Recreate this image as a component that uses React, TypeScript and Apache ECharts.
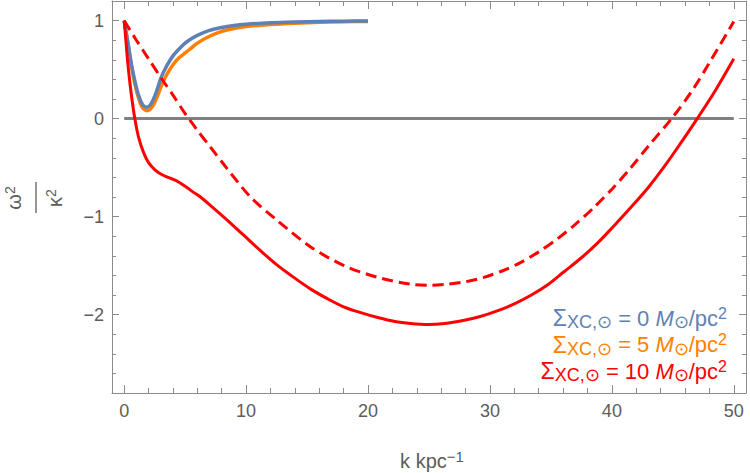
import React, { useEffect, useRef } from "react";
import * as echarts from "echarts";

// ---------- data ----------
const kBlue = [0, 0.3, 0.6, 0.9, 1.2, 1.5, 1.85, 2.2, 2.6, 3.0, 3.5, 4.0, 4.5, 5.0, 5.5, 6.0, 7.0, 8.0, 9.0, 10, 12, 14, 16, 18, 20];
const yBlue = [1, 0.78, 0.55, 0.37, 0.23, 0.145, 0.115, 0.15, 0.26, 0.41, 0.54, 0.64, 0.71, 0.77, 0.815, 0.85, 0.9, 0.93, 0.95, 0.963, 0.978, 0.986, 0.991, 0.994, 0.996];

const kOrange = [0, 0.3, 0.6, 0.9, 1.2, 1.5, 1.9, 2.3, 2.7, 3.1, 3.5, 4.0, 4.5, 5.0, 5.5, 6, 7, 8, 9, 10, 12, 14, 16, 18, 20];
const yOrange = [1, 0.77, 0.53, 0.34, 0.2, 0.11, 0.08, 0.12, 0.22, 0.35, 0.45, 0.55, 0.62, 0.67, 0.72, 0.77, 0.84, 0.89, 0.92, 0.94, 0.96, 0.973, 0.982, 0.988, 0.992];

const kRedSolid = [0, 0.15, 0.3, 0.5, 0.7, 0.9, 1.2, 1.6, 2.0, 2.5, 3.0, 3.6, 4.3, 5.0, 5.6, 6.25, 7.3, 8.4, 9.8, 11.2, 12.5, 13.9, 15.3, 16.7, 18, 19.4, 20.8, 22.2, 23.5, 24.9, 26.3, 27.8, 29.2, 30.65, 32, 33.4, 34.8, 36.1, 37.5, 38.9, 40.2, 41.6, 43, 44.35, 45.7, 47, 48.5, 50];
const yRedSolid = [1, 0.78, 0.56, 0.33, 0.14, -0.02, -0.2, -0.35, -0.45, -0.52, -0.565, -0.6, -0.635, -0.69, -0.745, -0.8, -0.91, -1.03, -1.19, -1.35, -1.49, -1.62, -1.74, -1.84, -1.92, -1.98, -2.03, -2.07, -2.09, -2.1, -2.09, -2.06, -2.02, -1.96, -1.89, -1.8, -1.69, -1.56, -1.42, -1.26, -1.09, -0.9, -0.7, -0.48, -0.24, 0.0, 0.29, 0.61];

const kRedDashed = [0, 1, 2, 3, 4, 5, 5.3, 6, 7.07, 8.44, 10.36, 12.56, 15.3, 18.03, 20.8, 23.5, 25.2, 26.5, 28, 29.5, 31, 32.5, 34, 35.5, 37, 38.5, 40, 41.5, 43, 44.9, 46.5, 48, 50];
const yRedDashed = [1, 0.8, 0.61, 0.42, 0.24, 0.05, 0, -0.12, -0.29, -0.51, -0.8, -1.04, -1.31, -1.5, -1.62, -1.69, -1.7, -1.69, -1.665, -1.62, -1.555, -1.47, -1.36, -1.23, -1.08, -0.91, -0.72, -0.51, -0.28, 0.0, 0.27, 0.57, 0.99];

const zeroLine = [[0, 0], [50, 0]];

const xMajorTicks = [0, 10, 20, 30, 40, 50];
const yMajorTicks = [-2, -1, 0, 1];
const legendValues = ["0", "5", "10"];

const COLORS = { blue: "#5E81B5", orange: "#FF8000", red: "#FF0000", zero: "#808080" };

// ---------- helpers ----------
const pairs = (xs: number[], ys: number[]) => xs.map((x, i) => [x, ys[i]]);

const xMinorTicks: number[] = [];
for (let v = 2; v < 50; v += 2) if (v % 10 !== 0) xMinorTicks.push(v);
const yMinorTicks: number[] = [];
for (let i = -13; i <= 5; i++) if (i % 5 !== 0) yMinorTicks.push(Math.round(i * 2) / 10);

const FONT = "'Liberation Sans', Arial, Helvetica, sans-serif";
const FRAME = "#8c8c8c";
const LABEL = "#5c5c5c";

const X_MIN = -1, X_MAX = 51, Y_MIN = -2.8, Y_MAX = 1.2;
const fmt = (v: number) => String(v).replace("-", "\u2212");

function xAxisDef(position: string, ticks: number[], len: number, withLine: boolean, withLabels: boolean) {
  return {
    type: "value", min: X_MIN, max: X_MAX, position,
    axisLine: { show: withLine, onZero: false, lineStyle: { color: FRAME, width: 1 } },
    axisTick: { show: true, inside: true, length: len, customValues: ticks, lineStyle: { color: FRAME, width: 1 } },
    axisLabel: withLabels
      ? { show: true, customValues: ticks, formatter: fmt, color: LABEL, fontSize: 18, fontFamily: FONT, margin: 9 }
      : { show: false },
    splitLine: { show: false },
  };
}
function yAxisDef(position: string, ticks: number[], len: number, withLine: boolean, withLabels: boolean) {
  return {
    type: "value", min: Y_MIN, max: Y_MAX, position,
    axisLine: { show: withLine, onZero: false, lineStyle: { color: FRAME, width: 1 } },
    axisTick: { show: true, inside: true, length: len, customValues: ticks, lineStyle: { color: FRAME, width: 1 } },
    axisLabel: withLabels
      ? { show: true, customValues: ticks, formatter: fmt, color: LABEL, fontSize: 18, fontFamily: FONT, margin: 8 }
      : { show: false },
    splitLine: { show: false },
  };
}

const legendColors = [COLORS.blue, COLORS.orange, COLORS.red];

function legendRich(color: string) {
  return {
    s: { fontSize: 23, lineHeight: 26, fill: color, fontFamily: FONT },
    sub: { fontSize: 18, lineHeight: 16, verticalAlign: "bottom", fill: color, fontFamily: FONT },
    n: { fontSize: 22, lineHeight: 26, fill: color, fontFamily: FONT },
    m: { fontSize: 22, lineHeight: 26, fontStyle: "italic", fill: color, fontFamily: FONT },
    sup: { fontSize: 16, lineHeight: 18, verticalAlign: "top", fill: color, fontFamily: FONT },
  };
}

const legendGraphics = legendValues.map((v, i) => ({
  type: "text",
  x: 727,
  y: 318 + i * 26.5,
  z: 100,
  style: {
    text: `{s|Σ}{sub|XC,⊙}{n| = ${v} }{m|M}{sub|⊙}{n|/pc}{sup|2}`,
    rich: legendRich(legendColors[i]),
    fill: legendColors[i],
    align: "right", textAlign: "right",
    verticalAlign: "middle", textVerticalAlign: "middle",
  },
}));

const fracRich = {
  a: { fontSize: 20, lineHeight: 22, fill: LABEL, fontFamily: FONT },
  b: { fontSize: 14, lineHeight: 14, verticalAlign: "top", fill: LABEL, fontFamily: FONT },
};

const option = {
  animation: false,
  grid: { left: 112, right: 4, top: 1, bottom: 80, containLabel: false },
  xAxis: [
    xAxisDef("bottom", xMajorTicks, 8, true, true),
    xAxisDef("bottom", xMinorTicks, 5, false, false),
    xAxisDef("top", xMajorTicks, 8, true, false),
    xAxisDef("top", xMinorTicks, 5, false, false),
  ],
  yAxis: [
    yAxisDef("left", yMajorTicks, 7, true, true),
    yAxisDef("left", yMinorTicks, 4, false, false),
    yAxisDef("right", yMajorTicks, 7, true, false),
    yAxisDef("right", yMinorTicks, 4, false, false),
  ],
  series: [
    { type: "line", data: zeroLine, symbol: "none", lineStyle: { color: COLORS.zero, width: 3 }, silent: true },
    { type: "line", data: pairs(kOrange, yOrange), symbol: "none", smooth: 0.25, lineStyle: { color: COLORS.orange, width: 3.5 } },
    { type: "line", data: pairs(kBlue, yBlue), symbol: "none", smooth: 0.25, lineStyle: { color: COLORS.blue, width: 3.5 } },
    { type: "line", data: pairs(kRedDashed, yRedDashed), symbol: "none", smooth: 0.3, lineStyle: { color: COLORS.red, width: 3, type: [11, 6] } },
    { type: "line", data: pairs(kRedSolid, yRedSolid), symbol: "none", smooth: 0.35, lineStyle: { color: COLORS.red, width: 3 } },
  ],
  graphic: [
    ...legendGraphics,
    {
      type: "text", x: 432, y: 461,
      style: {
        text: "{a|k kpc}{b|−1}",
        rich: {
          a: { fontSize: 20, lineHeight: 24, fill: LABEL, fontFamily: FONT },
          b: { fontSize: 15, lineHeight: 15, verticalAlign: "top", fill: LABEL, fontFamily: FONT },
        },
        align: "center", textAlign: "center", verticalAlign: "middle", textVerticalAlign: "middle",
      },
    },
    {
      type: "text", x: 14, y: 198, rotation: Math.PI / 2,
      style: { text: "{a|ω}{b|2}", rich: fracRich, align: "center", textAlign: "center", verticalAlign: "middle", textVerticalAlign: "middle" },
    },
    {
      type: "line", shape: { x1: 36, y1: 182, x2: 36, y2: 213 },
      style: { stroke: LABEL, lineWidth: 1.3 },
    },
    {
      type: "text", x: 55, y: 198, rotation: Math.PI / 2,
      style: { text: "{a|κ}{b|2}", rich: fracRich, align: "center", textAlign: "center", verticalAlign: "middle", textVerticalAlign: "middle" },
    },
  ],
};

export default function App() {
  const ref = useRef<HTMLDivElement>(null);
  useEffect(() => {
    const chart = echarts.init(ref.current!, null, { renderer: "svg" });
    chart.setOption(option as any);
    return () => chart.dispose();
  }, []);
  return <div ref={ref} style={{ position: "fixed", left: 0, top: 0, width: 750, height: 473, background: "#fff" }} />;
}
